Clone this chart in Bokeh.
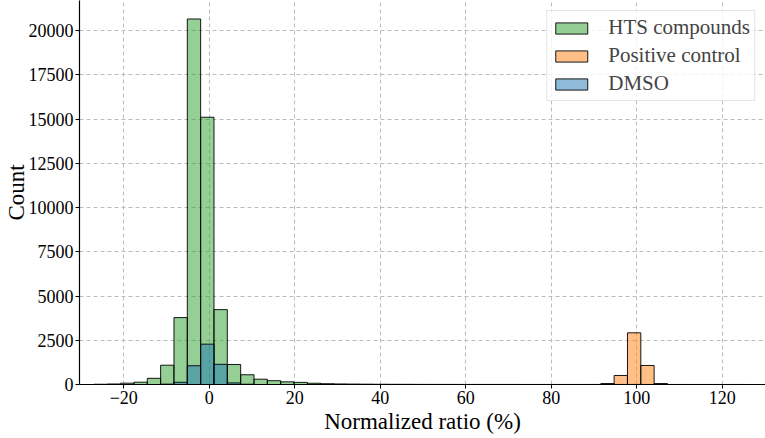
import numpy as np
from bokeh.plotting import figure
from bokeh.models import Range1d, FixedTicker, Legend, LegendItem
from bokeh.embed import file_html
from bokeh.resources import INLINE

# ---- data ----
bin_start = -26.96
bin_width = 3.12
n_bins = 49
bin_edges = [round(bin_start + bin_width * i, 2) for i in range(n_bins + 1)]

hts_counts = [15, 30, 75, 130, 350, 1090, 3780, 20650, 15100, 4230,
              1130, 550, 300, 215, 150, 120, 70, 45, 32, 24,
              18, 14, 11, 9, 7, 6, 5, 4, 4, 3,
              3, 3, 2, 2, 2, 2, 2, 3, 4, 5,
              6, 4, 3, 2, 2, 1, 1, 1, 1]
positive_counts = [0] * 38 + [55, 510, 2920, 1075, 55] + [0] * 6
dmso_counts = [0] * 5 + [20, 125, 1060, 2280, 1140, 90, 15] + [0] * 37

series_labels = ["HTS compounds", "Positive control", "DMSO"]
series_colors = ["#2ca02c", "#ff7f0e", "#1f77b4"]
x_ticks = [-20, 0, 20, 40, 60, 80, 100, 120]
y_ticks = [0, 2500, 5000, 7500, 10000, 12500, 15000, 17500, 20000]
x_label = "Normalized ratio (%)"
y_label = "Count"

FONT = "Liberation Serif"

p = figure(width=765, height=438, output_backend="svg", toolbar_location=None,
           x_range=Range1d(-30.34, 130.13), y_range=Range1d(0, 21695),
           min_border_left=78, min_border_right=0, min_border_top=0,
           min_border_bottom=54)
p.outline_line_color = None
p.background_fill_color = "white"

lefts = bin_edges[:-1]
rights = bin_edges[1:]
renderers = []
for counts, color in zip([hts_counts, positive_counts, dmso_counts], series_colors):
    r = p.quad(left=lefts, right=rights, bottom=0, top=counts,
               fill_color=color, fill_alpha=0.5,
               line_color="black", line_width=1, line_alpha=0.9)
    renderers.append(r)

legend = Legend(items=[LegendItem(label=lab, renderers=[r])
                       for lab, r in zip(series_labels, renderers)],
                location="top_right", margin=10, padding=4, spacing=3,
                glyph_width=40, glyph_height=14, label_standoff=17,
                label_height=21,
                label_text_font=FONT, label_text_font_size="21px",
                border_line_color="#cccccc", border_line_width=1,
                background_fill_alpha=0.8)
p.add_layout(legend)

p.xaxis.ticker = FixedTicker(ticks=x_ticks)
p.yaxis.ticker = FixedTicker(ticks=y_ticks)
p.axis.minor_tick_line_color = None
p.axis.major_tick_in = 0
p.axis.major_tick_out = 4
p.axis.major_tick_line_color = "black"
p.axis.axis_line_color = "black"
p.axis.axis_line_width = 1.2
p.axis.major_label_text_font = FONT
p.axis.major_label_text_font_size = "18px"
p.axis.major_label_text_color = "black"
p.axis.axis_label_text_font = FONT
p.axis.axis_label_text_font_size = "23px"
p.axis.axis_label_text_font_style = "normal"
p.axis.axis_label_text_color = "black"

p.xaxis.axis_label_standoff = 2
p.yaxis.axis_label_standoff = -3
p.xaxis.major_label_standoff = 2
p.yaxis.major_label_standoff = 2
p.xaxis.major_label_overrides = {t: ("\u2212" + str(abs(t)) if t < 0 else str(t)) for t in x_ticks}
p.xaxis.axis_label = x_label
p.yaxis.axis_label = y_label

for g in (p.xgrid, p.ygrid):
    g.grid_line_color = "#bcbcbc"
    g.grid_line_dash = "4 3"
    g.grid_line_width = 1

open("out.html", "w").write(file_html(p, INLINE))
